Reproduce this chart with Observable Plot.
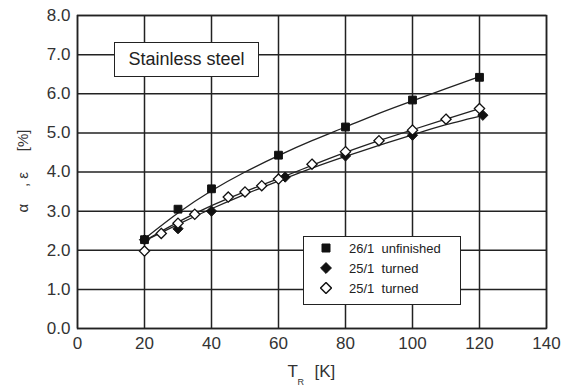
<!DOCTYPE html>
<html>
<head>
<meta charset="utf-8">
<script src="https://cdn.jsdelivr.net/npm/d3@7"></script>
<script src="https://cdn.jsdelivr.net/npm/@observablehq/plot@0.6"></script>
<style>
  html, body { margin: 0; padding: 0; background: #fff; }
  #chart { position: relative; width: 569px; height: 387px; font-family: "Liberation Sans", Arial, sans-serif; color: #222; }
  #chart svg text { white-space: pre; }
  .note { position: absolute; box-sizing: border-box; background: #fff; border: 1.5px solid #222; }
  .title-box { left: 114px; top: 42px; width: 145px; height: 35px; font-size: 18px; line-height: 32px; text-align: center; }
  .legend { left: 303px; top: 236px; width: 158px; height: 69px; font-size: 13px; padding-top: 1px; }
  .legend .row { display: flex; align-items: center; height: 20px; }
  .legend svg { margin-left: 16px; margin-right: 17px; }
</style>
</head>
<body>
<div id="chart"></div>
<script>
// Temperature axis and tick labels
const xTicks = [0, 20, 40, 60, 80, 100, 120, 140];
const yTicks = [0, 1, 2, 3, 4, 5, 6, 7, 8];

// Measured points: 26/1 unfinished (filled squares)
const sqT = [20, 30, 40, 60, 80, 100, 120];
const sqV = [2.27, 3.05, 3.57, 4.43, 5.15, 5.84, 6.42];

// Measured points: 25/1 turned (filled diamonds)
const fdT = [20, 30, 40, 62, 80, 100, 121];
const fdV = [2.27, 2.55, 3.0, 3.87, 4.41, 4.94, 5.45];

// Measured points: 25/1 turned (open diamonds)
const odT = [20, 25, 30, 35, 45, 50, 55, 60, 70, 80, 90, 100, 110, 120];
const odV = [1.98, 2.43, 2.69, 2.92, 3.36, 3.49, 3.65, 3.82, 4.2, 4.52, 4.8, 5.07, 5.35, 5.62];

// Fitted curves
const fitSqT = [20, 30, 40, 50, 60, 70, 80, 90, 100, 110, 120];
const fitSqV = [2.29, 2.95, 3.52, 4.0, 4.42, 4.8, 5.15, 5.5, 5.82, 6.13, 6.44];
const fitOdT = [20, 30, 40, 50, 60, 70, 80, 90, 100, 110, 120];
const fitOdV = [2.24, 2.72, 3.14, 3.5, 3.83, 4.17, 4.5, 4.8, 5.08, 5.35, 5.62];
const fitFdT = [20, 30, 40, 50, 60, 70, 80, 90, 100, 110, 122];
const fitFdV = [2.24, 2.66, 3.06, 3.43, 3.77, 4.1, 4.4, 4.68, 4.95, 5.21, 5.47];

const legendItems = [
  { symbol: "square", fill: "#111", label: "26/1  unfinished" },
  { symbol: "diamond2", fill: "#111", label: "25/1  turned" },
  { symbol: "diamond2", fill: "#fff", label: "25/1  turned" }
];

const pts = (T, V) => T.map((t, i) => ({ t, v: V[i] }));
const ink = "#222";

const plot = Plot.plot({
  width: 569,
  height: 387,
  marginLeft: 77,
  marginRight: 23,
  marginTop: 15,
  marginBottom: 59,
  style: { fontFamily: "'Liberation Sans', Arial, sans-serif", fontSize: "17px", color: "#333", background: "#fff" },
  x: { domain: [0, 140] },
  y: { domain: [0, 8] },
  marks: [
    Plot.gridX(xTicks, { stroke: ink, strokeOpacity: 1, strokeWidth: 1.5 }),
    Plot.gridY(yTicks, { stroke: ink, strokeOpacity: 1, strokeWidth: 1.5 }),
    Plot.frame({ stroke: ink, strokeWidth: 1.5 }),
    Plot.axisX(xTicks, { tickSize: 0, tickPadding: 8, label: null, tickFormat: d => String(d) }),
    Plot.axisY(yTicks, { tickSize: 0, tickPadding: 7, label: null, tickFormat: d => d.toFixed(1) }),
    Plot.line(pts(fitSqT, fitSqV), { x: "t", y: "v", curve: "natural", stroke: ink, strokeWidth: 1.3 }),
    Plot.line(pts(fitOdT, fitOdV), { x: "t", y: "v", curve: "natural", stroke: ink, strokeWidth: 1.3 }),
    Plot.line(pts(fitFdT, fitFdV), { x: "t", y: "v", curve: "natural", stroke: ink, strokeWidth: 1.3 }),
    Plot.dot(pts(fdT, fdV), { x: "t", y: "v", symbol: "diamond2", r: 4.6, fill: "#111", stroke: "#111", strokeWidth: 1 }),
    Plot.dot(pts(sqT, sqV), { x: "t", y: "v", symbol: "square", r: 4.4, fill: "#111", stroke: "#111", strokeWidth: 1 }),
    Plot.dot(pts(odT, odV), { x: "t", y: "v", symbol: "diamond2", r: 4.6, fill: "#fff", stroke: "#111", strokeWidth: 1.3 }),
    // Axis titles
    Plot.text(["α    , ε     [%]"], { frameAnchor: "left", rotate: -90, dx: -54, dy: -1, textAnchor: "middle", fontSize: 15, fill: "#333" }),
    Plot.text(["T"], { frameAnchor: "bottom-left", dx: 210, dy: 43, textAnchor: "start", lineAnchor: "middle", fontSize: 17, fill: "#333" }),
    Plot.text(["R"], { frameAnchor: "bottom-left", dx: 220, dy: 54, textAnchor: "start", lineAnchor: "middle", fontSize: 9, fill: "#333" }),
    Plot.text(["[K]"], { frameAnchor: "bottom-left", dx: 237, dy: 43, textAnchor: "start", lineAnchor: "middle", fontSize: 17, fill: "#333" })
  ]
});

const chart = document.getElementById("chart");
chart.appendChild(plot);

// Material label
const titleBox = document.createElement("div");
titleBox.className = "note title-box";
titleBox.textContent = "Stainless steel";
chart.appendChild(titleBox);

// Legend
const legend = document.createElement("div");
legend.className = "note legend";
for (const item of legendItems) {
  const row = document.createElement("div");
  row.className = "row";
  const sym = d3.create("svg").attr("width", 12).attr("height", 12);
  const size = item.symbol === "square" ? 64 : 75;
  const shape = item.symbol === "square" ? d3.symbolSquare : d3.symbolDiamond2;
  sym.append("path")
    .attr("transform", "translate(6,6)")
    .attr("d", d3.symbol(shape, size)())
    .attr("fill", item.fill)
    .attr("stroke", "#111")
    .attr("stroke-width", item.fill === "#fff" ? 1.5 : 1);
  row.appendChild(sym.node());
  const span = document.createElement("span");
  span.style.whiteSpace = "pre";
  span.textContent = item.label;
  row.appendChild(span);
  legend.appendChild(row);
}
chart.appendChild(legend);
</script>
</body>
</html>
